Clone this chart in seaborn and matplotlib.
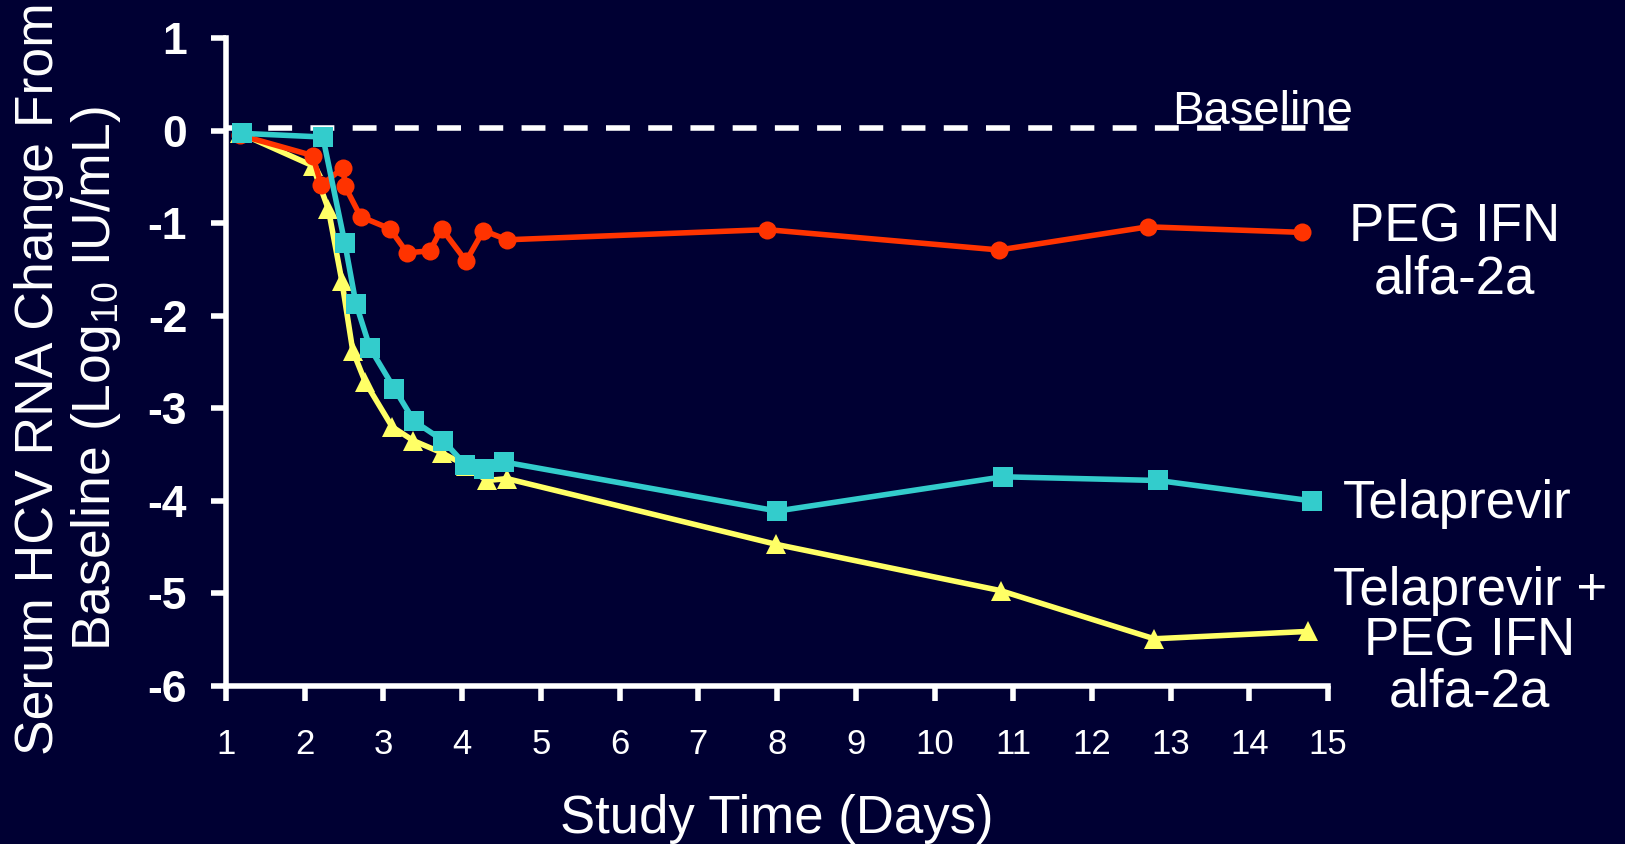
import numpy as np
import pandas as pd
import matplotlib
matplotlib.use("Agg")
import matplotlib.pyplot as plt
import seaborn as sns

# values (days, log10 change)
peg_days = [1.18, 2.10, 2.21, 2.49, 2.51, 2.71, 3.08, 3.30, 3.59, 3.74, 4.05, 4.27, 4.57, 7.87, 10.82, 12.71, 14.67]
peg_vals = [-0.05, -0.27, -0.59, -0.40, -0.60, -0.93, -1.06, -1.32, -1.30, -1.06, -1.41, -1.08, -1.18, -1.07, -1.29, -1.04, -1.10]

tel_days = [1.20, 2.23, 2.51, 2.65, 2.83, 3.14, 3.39, 3.76, 4.04, 4.28, 4.53, 8.00, 10.87, 12.84, 14.79]
tel_vals = [-0.03, -0.07, -1.22, -1.87, -2.35, -2.79, -3.14, -3.35, -3.61, -3.66, -3.58, -4.11, -3.74, -3.78, -4.00]

combo_days = [1.18, 2.10, 2.30, 2.47, 2.61, 2.77, 3.11, 3.38, 3.74, 4.05, 4.31, 4.57, 7.99, 10.84, 12.79, 14.75]
combo_vals = [-0.03, -0.38, -0.85, -1.62, -2.38, -2.72, -3.20, -3.35, -3.48, -3.62, -3.78, -3.76, -4.47, -4.97, -5.49, -5.41]

x_ticks = list(range(1, 16))
y_ticks = [1, 0, -1, -2, -3, -4, -5, -6]

bg = "#000033"
red = "#FF3300"
cyan = "#33CCCC"
yellow = "#FFFF66"

sns.set_style("ticks")
plt.rcParams["font.family"] = ["Liberation Sans", "DejaVu Sans"]
plt.rcParams["mathtext.default"] = "regular"

fig = plt.figure(figsize=(16.25, 8.44), dpi=100, facecolor=bg)
ax = fig.add_axes([0.1391, 0.1872, 0.6782, 0.7678])
ax.set_facecolor(bg)

df_combo = pd.DataFrame({"day": combo_days, "val": combo_vals})
df_peg = pd.DataFrame({"day": peg_days, "val": peg_vals})
df_tel = pd.DataFrame({"day": tel_days, "val": tel_vals})

sns.lineplot(data=df_combo, x="day", y="val", ax=ax, sort=False, estimator=None,
             color=yellow, lw=4, marker="^", markersize=15, markeredgewidth=0, zorder=3)
sns.lineplot(data=df_peg, x="day", y="val", ax=ax, sort=False, estimator=None,
             color=red, lw=4, marker="o", markersize=13, markeredgewidth=0, zorder=4)
sns.lineplot(data=df_tel, x="day", y="val", ax=ax, sort=False, estimator=None,
             color=cyan, lw=4, marker="s", markersize=14, markeredgewidth=0, zorder=5)

# baseline
ax.plot([1.0, 15.34], [0.03, 0.03], color="white", lw=4, dashes=(4.3, 3.3),
        clip_on=False, zorder=2)
ax.text(13.02, 0.075, "Baseline", color="white", fontsize=34, ha="left", va="baseline")

ax.set_xlim(1, 15)
ax.set_ylim(-6, 1)
ax.set_xticks(x_ticks)
ax.set_yticks(y_ticks)
ax.set_xticklabels([str(t) for t in x_ticks], fontsize=25, color="white")
ax.set_yticklabels([str(t) for t in y_ticks], fontsize=32, fontweight="bold", color="white")
ax.tick_params(axis="x", length=11, width=4, color="white", pad=19, direction="out")
ax.tick_params(axis="y", length=11, width=4, color="white", pad=17, direction="out")

sns.despine(ax=ax)
for s in ["left", "bottom"]:
    ax.spines[s].set_color("white")
    ax.spines[s].set_linewidth(4)

ax.set_xlabel("Study Time (Days)", fontsize=38, color="white", va="center")
ax.xaxis.set_label_coords(0.5, -0.205)
ax.set_ylabel("Serum HCV RNA Change From\nBaseline (Log$_{10}$ IU/mL)", fontsize=38.5,
              color="white", va="center", linespacing=1.12)
ax.yaxis.set_label_coords(-0.143, 0.475)

# series labels to the right
ax.text(16.6, -1.33, "PEG IFN\nalfa-2a", color="white", fontsize=38,
        ha="center", va="center", linespacing=1.05)
ax.text(16.64, -4.03, "Telaprevir", color="white", fontsize=38,
        ha="center", va="center")
ax.text(16.8, -5.52, "Telaprevir +\nPEG IFN\nalfa-2a", color="white", fontsize=38,
        ha="center", va="center", linespacing=1.02)

plt.savefig("out.png", dpi=100, facecolor=bg)
